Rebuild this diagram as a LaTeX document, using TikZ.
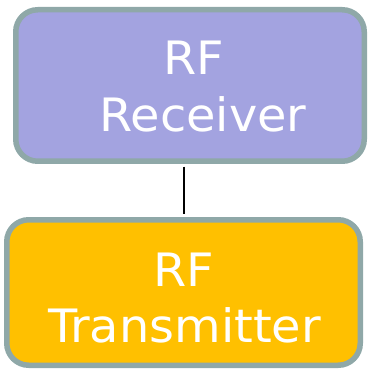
\documentclass[tikz,border=0pt]{standalone}
\usepackage{fontspec}
\setmainfont[FakeStretch=1.04]{DejaVu Sans}
\definecolor{rxfill}{RGB}{163,163,224}
\definecolor{txfill}{RGB}{255,192,0}
\definecolor{edgegray}{RGB}{143,168,168}
\tikzset{
  box/.style={draw=edgegray, line width=5.5pt, rounded corners=22pt, inner sep=0pt},
  caption/.style={text=white, inner sep=0pt, anchor=base, font=\fontsize{46}{57}\selectfont},
  link/.style={draw=black, line width=2pt}
}
\begin{document}
\begin{tikzpicture}[x=1pt, y=-1pt]
  \useasboundingbox (0,0) rectangle (368,371);
  % receiver block
  \node[box, fill=rxfill, minimum width=348.5pt, minimum height=151.5pt] (rx) at (190,85.5) {};
  \node[caption] (rx1) at (194,75) {RF};
  \node[caption] (rx2) at (203,132) {Receiver};
  % transmitter block
  \node[box, fill=txfill, minimum width=353.5pt, minimum height=145.5pt] (tx) at (183.5,292.5) {};
  \node[caption] (tx1) at (184,286) {RF};
  \node[caption] (tx2) at (184.5,342) {Transmitter};
  % link between the two blocks
  \draw[link, shorten <=2.75pt, shorten >=2.75pt] (tx.north |- rx.south) -- (tx.north);
\end{tikzpicture}
\end{document}
